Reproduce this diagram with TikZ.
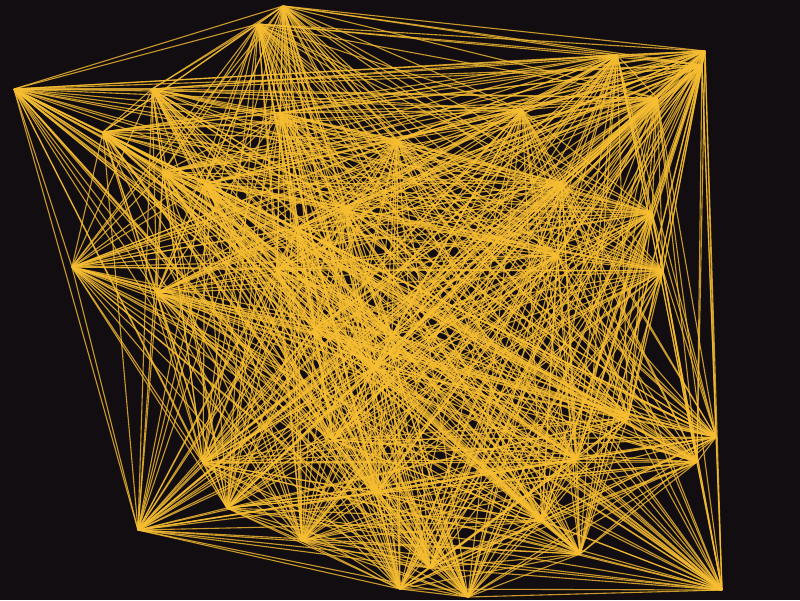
\documentclass[tikz,border=0pt]{standalone}
\begin{document}
\begin{tikzpicture}[x=1pt,y=-1pt,
  edge/.style={draw=edgecol, line width=1.1pt, opacity=0.8}]
\definecolor{bgcol}{HTML}{120D10}
\definecolor{edgecol}{HTML}{F7BE32}
\fill[bgcol] (0,0) rectangle (800,600);
\useasboundingbox (0,0) rectangle (800,600);
\foreach \x/\y [count=\i] in {283/6, 258/24, 14/89, 152/89, 103/132, 280/113, 163/172, 205/184, 345/207, 72/267,
  157/293, 397/140, 705/51, 617/55, 657/98, 522/110, 562/183, 652/213, 663/271, 557/255,
  138/530, 203/463, 227/508, 302/541, 400/589, 716/437, 697/462, 722/590, 468/597, 580/554,
  542/521, 577/459, 628/418, 277/270, 297/228, 377/493, 373/368, 430/568, 702/65, 333/440,
  315/328, 392/335}
  { \coordinate (v\i) at (\x,\y); }
\foreach \i in {1,...,42} {
  \foreach \j in {\i,...,42} {
    \ifnum\j>\i \draw[edge] (v\i) -- (v\j); \fi
  }
}
\end{tikzpicture}
\end{document}
